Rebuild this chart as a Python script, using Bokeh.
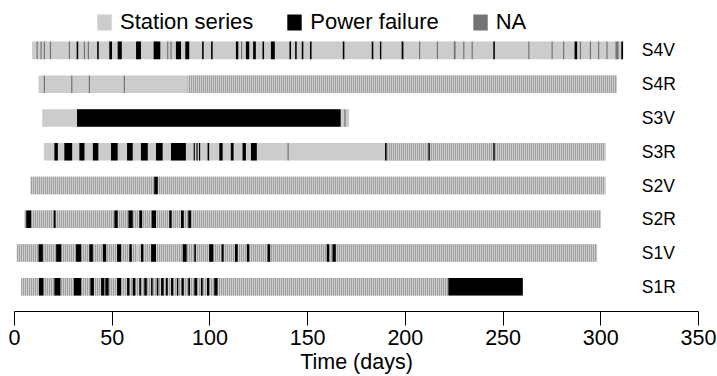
from bokeh.plotting import figure
from bokeh.models import Range1d, FixedTicker, Legend, LegendItem, ColumnDataSource
from bokeh.core.properties import value
from bokeh.embed import file_html
from bokeh.resources import INLINE

# ---------------- data (days) ----------------
stations = ["S1R", "S1V", "S2R", "S2V", "S3R", "S3V", "S4R", "S4V"]
span_start = [3.4, 1.2, 5.1, 8.2, 15.0, 14.2, 12.3, 9.0]
span_end = [260.1, 298.1, 300.1, 302.3, 302.3, 171.2, 308.3, 311.4]

# periods with frequent (daily) NA gaps
gappy = {
    "S1R": [(3.4, 222.0)],
    "S1V": [(1.2, 62.2), (63.9, 298.1)],
    "S2R": [(5.1, 300.1)],
    "S2V": [(8.2, 302.3)],
    "S3R": [(189.9, 302.3)],
    "S3V": [],
    "S4R": [(88.6, 308.3)],
    "S4V": [],
}

# isolated NA values
na_periods = {
    "S1R": [], "S1V": [], "S2R": [], "S2V": [],
    "S3R": [(139.7, 140.3)],
    "S3V": [(168.8, 169.4)],
    "S4R": [(15.0, 15.6), (29.0, 29.6), (38.0, 38.6), (55.9, 56.5)],
    "S4V": [(11.3, 11.9), (13.3, 13.9), (15.0, 15.6), (18.1, 18.7), (27.8, 28.4),
            (35.5, 36.1), (37.5, 38.1), (78.1, 78.7), (79.8, 80.4), (115.9, 116.5),
            (207.0, 207.6), (216.1, 216.7), (224.8, 225.7), (229.6, 230.2),
            (233.9, 234.5), (262.9, 263.5), (274.8, 275.4), (280.7, 281.3),
            (289.3, 289.9), (294.4, 295.0), (298.6, 299.2), (302.9, 303.5),
            (307.5, 309.1)],
}

# power failures
power_failures = {
    "S1R": [(12.5, 14.8), (20.4, 23.5), (30.4, 34.1), (38.8, 40.6), (44.3, 46.0),
            (46.5, 48.2), (52.5, 54.5), (57.6, 58.8), (60.5, 61.8), (63.9, 64.7),
            (66.4, 67.7), (69.9, 70.7), (72.8, 73.6), (75.0, 76.3), (77.5, 78.4),
            (80.1, 81.2), (83.1, 83.8), (85.5, 86.6), (88.9, 89.8), (92.0, 93.4),
            (95.4, 96.3), (98.5, 99.6), (102.2, 103.9), (222.0, 260.1)],
    "S1V": [(12.3, 14.5), (21.3, 23.9), (31.5, 34.1), (38.3, 40.1), (45.2, 46.9),
            (52.5, 54.5), (58.8, 60.0), (64.7, 65.9), (69.9, 72.4), (86.1, 88.1),
            (92.0, 92.8), (99.6, 101.7), (106.0, 107.0), (112.8, 114.2),
            (118.9, 120.1), (129.5, 130.8), (159.8, 161.0), (162.7, 164.4)],
    "S2R": [(6.0, 8.5), (20.1, 21.0), (51.1, 52.8), (58.3, 60.5), (63.9, 65.3),
            (70.2, 72.4), (79.2, 80.4), (85.2, 86.6), (88.9, 90.3)],
    "S2V": [(71.5, 73.3)],
    "S3R": [(20.4, 22.2), (25.5, 29.5), (33.2, 35.8), (40.1, 42.9), (49.4, 52.8),
            (57.6, 60.5), (64.7, 68.2), (72.4, 75.8), (80.1, 87.7), (91.7, 92.3),
            (93.1, 93.7), (94.4, 95.0), (98.8, 99.6), (104.8, 106.5), (110.7, 112.1),
            (116.7, 118.4), (121.0, 124.0), (189.6, 190.4), (211.8, 212.5),
            (245.0, 245.7)],
    "S3V": [(32.0, 166.9)],
    "S4R": [],
    "S4V": [(31.8, 32.6), (42.3, 43.1), (48.5, 49.9), (52.8, 54.9), (62.2, 64.7),
            (71.2, 74.6), (82.6, 85.2), (87.4, 89.4), (96.0, 96.8), (100.6, 101.4),
            (113.3, 114.5), (118.4, 120.1), (122.1, 123.5), (126.9, 127.7),
            (131.2, 133.2), (140.7, 141.5), (143.6, 144.4), (147.0, 147.8),
            (151.2, 152.0), (168.0, 168.8), (182.8, 183.6), (187.0, 187.7),
            (198.1, 199.0), (245.0, 245.8), (286.6, 287.9), (310.5, 311.4)],
}

legend_labels = ["Station series", "Power failure", "NA"]
x_ticks = [0, 50, 100, 150, 200, 250, 300, 350]

# ---------------- styling ----------------
C_SERIES = "#cccccc"
C_FAIL = "#000000"
C_NA = "#737373"
FONT = "Liberation Sans"
HALF = 0.26


def build(seg_dict):
    d = dict(left=[], right=[], bottom=[], top=[])
    for i, s in enumerate(stations):
        for a, b in seg_dict[s]:
            d["left"].append(a)
            d["right"].append(b)
            d["bottom"].append(i - HALF)
            d["top"].append(i + HALF)
    return ColumnDataSource(d)


base_src = ColumnDataSource(dict(
    left=span_start, right=span_end,
    bottom=[i - HALF for i in range(len(stations))],
    top=[i + HALF for i in range(len(stations))],
))

p = figure(width=717, height=376, output_backend="svg", toolbar_location=None,
           x_range=Range1d(0, 350), y_range=Range1d(-0.73, 8.24),
           min_border_left=14, min_border_right=19, min_border_top=8,
           min_border_bottom=64)

r_base = p.quad(source=base_src, left="left", right="right", bottom="bottom", top="top",
                fill_color=C_SERIES, line_color=None)
p.quad(source=build(gappy), left="left", right="right", bottom="bottom", top="top",
       fill_color=C_SERIES, line_color=None, hatch_pattern="vertical_line",
       hatch_color=C_NA, hatch_scale=2, hatch_weight=1)
r_na = p.quad(source=build(na_periods), left="left", right="right", bottom="bottom",
              top="top", fill_color=C_NA, line_color=None)
r_fail = p.quad(source=build(power_failures), left="left", right="right",
                bottom="bottom", top="top", fill_color=C_FAIL, line_color=None)

lab_src = ColumnDataSource(dict(x=[321] * len(stations), y=list(range(len(stations))),
                                t=stations))
p.text(source=lab_src, x="x", y="y", text="t", text_font=value(FONT),
       text_font_size="17.5px", text_align="left", text_baseline="middle",
       text_color="#000000")

legend = Legend(items=[LegendItem(label=legend_labels[0], renderers=[r_base]),
                       LegendItem(label=legend_labels[1], renderers=[r_fail]),
                       LegendItem(label=legend_labels[2], renderers=[r_na])],
                orientation="horizontal", location=(81, 276),
                glyph_width=18, glyph_height=20, label_height=20,
                label_standoff=7, spacing=32, padding=0, margin=0,
                border_line_color=None, background_fill_alpha=0,
                label_text_font=FONT, label_text_font_size="22px",
                label_text_color="#000000", label_text_baseline="middle")
p.add_layout(legend)

p.xaxis.ticker = FixedTicker(ticks=x_ticks)
p.xaxis.minor_tick_line_color = None
p.xaxis.major_tick_out = 14
p.xaxis.major_tick_in = 0
p.xaxis.axis_line_color = "#000000"
p.xaxis.major_tick_line_color = "#000000"
p.xaxis.major_label_text_font = FONT
p.xaxis.major_label_text_font_size = "21.5px"
p.xaxis.major_label_text_color = "#000000"
p.xaxis.major_label_standoff = 4
p.xaxis.axis_label = "Time (days)"
p.xaxis.axis_label_text_font = FONT
p.xaxis.axis_label_text_font_size = "21.5px"
p.xaxis.axis_label_text_font_style = "normal"
p.xaxis.axis_label_text_color = "#000000"
p.xaxis.axis_label_standoff = 2
p.yaxis.visible = False
p.xgrid.visible = False
p.ygrid.visible = False
p.outline_line_color = None

open("out.html", "w").write(file_html(p, INLINE))
